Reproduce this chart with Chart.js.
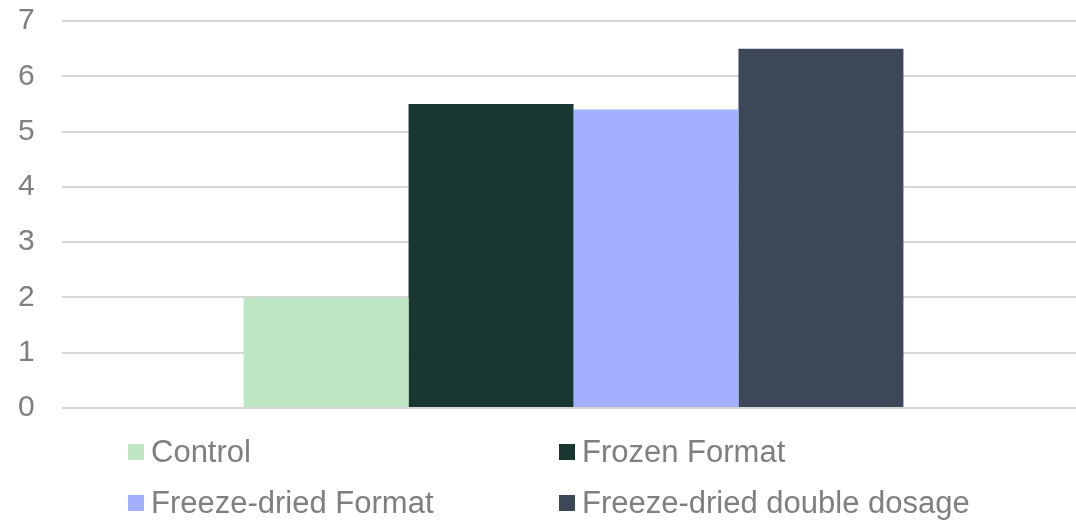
<!DOCTYPE html>
<html>
<head>
<meta charset="utf-8">
<script src="https://cdn.jsdelivr.net/npm/chart.js@4/dist/chart.umd.min.js"></script>
<style>
  html, body { margin: 0; padding: 0; background: #fff; }
  #wrap { position: relative; width: 1076px; height: 521px; overflow: hidden; }
  #c { position: absolute; left: 0; top: 0; }
  #legend { position: absolute; left: 0; top: 0; width: 1076px; height: 521px; pointer-events: none;
            font-family: "Liberation Sans", Arial, sans-serif; font-size: 31px; color: #7f7f7f; }
  .item { position: absolute; display: flex; align-items: center; white-space: nowrap; }
  .box { width: 16px; height: 16px; margin-right: 7px; }
</style>
</head>
<body>
<div id="wrap">
  <canvas id="c" width="1085" height="521"></canvas>
  <div id="legend"></div>
</div>
<script>
const categories = [''];
const seriesNames = ['Control', 'Frozen Format', 'Freeze-dried Format', 'Freeze-dried double dosage'];
const seriesValues = [[2], [5.5], [5.4], [6.5]];
const seriesColors = ['#BFE6C4', '#1A3631', '#A3AFFF', '#3C4858'];
const yTicks = [0, 1, 2, 3, 4, 5, 6, 7];

const datasets = seriesNames.map((name, i) => ({
  label: name,
  data: seriesValues[i],
  backgroundColor: seriesColors[i],
  borderWidth: 0,
  categoryPercentage: 0.645,
  barPercentage: 1.0
}));

const chart = new Chart(document.getElementById('c'), {
  type: 'bar',
  data: { labels: categories, datasets },
  options: {
    responsive: false,
    animation: false,
    layout: { padding: { top: 21, bottom: 113, left: 18, right: 0 } },
    plugins: { legend: { display: false }, tooltip: { enabled: false } },
    scales: {
      x: { display: false },
      y: {
        min: 0, max: 7,
        afterFit: s => { s.width = 44; },
        afterBuildTicks: s => { s.ticks = yTicks.map(v => ({ value: v })); },
        border: { display: false },
        grid: { color: '#d6d6d6', lineWidth: 2, drawTicks: false },
        ticks: {
          padding: 0,
          crossAlign: 'far',
          color: '#7f7f7f',
          font: { family: '"Liberation Sans", Arial, sans-serif', size: 30 }
        }
      }
    }
  }
});

// Two-column legend below the plot
const legendPos = [[128, 452], [559, 452], [128, 503], [559, 503]];
const legend = document.getElementById('legend');
seriesNames.forEach((name, i) => {
  const item = document.createElement('div');
  item.className = 'item';
  item.style.left = legendPos[i][0] + 'px';
  item.style.top = (legendPos[i][1] - 18) + 'px';
  item.style.height = '36px';
  const box = document.createElement('div');
  box.className = 'box';
  box.style.background = seriesColors[i];
  const txt = document.createElement('span');
  txt.textContent = name;
  item.appendChild(box);
  item.appendChild(txt);
  legend.appendChild(item);
});
</script>
</body>
</html>
